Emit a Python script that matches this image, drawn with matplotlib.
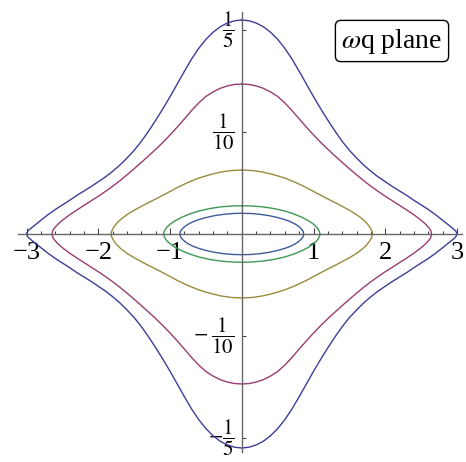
import numpy as np
import matplotlib.pyplot as plt

plt.rcParams['font.family'] = ['Liberation Serif', 'DejaVu Serif']
plt.rcParams['mathtext.fontset'] = 'stix'

# upper right quadrant of each closed curve (omega, q); the rest is mirrored
w1 = [0.0, 0.1, 0.2, 0.3, 0.4, 0.5, 0.6, 0.7, 0.8, 0.9, 1.0, 1.1, 1.2, 1.3, 1.4, 1.5, 1.6, 1.7,
      1.8, 1.9, 2.0, 2.1, 2.2, 2.3, 2.4, 2.5, 2.6, 2.7, 2.8, 2.88, 2.94, 2.975, 2.99, 3.0]
q1 = [0.2098, 0.2090, 0.2068, 0.2032, 0.1978, 0.1908, 0.1820, 0.1715, 0.1595, 0.1470, 0.1346,
      0.1228, 0.1115, 0.1008, 0.0908, 0.0820, 0.0745, 0.0675, 0.0615, 0.0560, 0.0512, 0.0465,
      0.0422, 0.0378, 0.0330, 0.0285, 0.0240, 0.0190, 0.0135, 0.0090, 0.0055, 0.0035, 0.0020, 0.0]

w2 = [0.0, 0.1, 0.2, 0.3, 0.4, 0.5, 0.6, 0.7, 0.8, 0.9, 1.0, 1.1, 1.2, 1.3, 1.4, 1.5, 1.6, 1.7,
      1.8, 1.9, 2.0, 2.1, 2.2, 2.3, 2.4, 2.5, 2.56, 2.6, 2.625, 2.638, 2.645]
q2 = [0.1470, 0.1466, 0.1452, 0.1428, 0.1393, 0.1348, 0.1285, 0.1210, 0.1128, 0.1048, 0.0971,
      0.0898, 0.0830, 0.0765, 0.0702, 0.0640, 0.0580, 0.0522, 0.0468, 0.0418, 0.0370, 0.0325,
      0.0280, 0.0235, 0.0188, 0.0135, 0.0098, 0.0068, 0.0045, 0.0028, 0.0]

w3 = [0.0, 0.15, 0.3, 0.45, 0.6, 0.75, 0.9, 1.05, 1.2, 1.35, 1.5, 1.6, 1.68, 1.74, 1.78, 1.805,
      1.818, 1.823]
q3 = [0.0627, 0.0622, 0.0606, 0.0580, 0.0548, 0.0505, 0.0455, 0.0398, 0.0343, 0.0290, 0.0233,
      0.0190, 0.0148, 0.0108, 0.0072, 0.0042, 0.0020, 0.0]

w4 = [0.0, 0.15, 0.3, 0.45, 0.6, 0.72, 0.84, 0.93, 1.0, 1.045, 1.07, 1.083, 1.09]
q4 = [0.0277, 0.0274, 0.0265, 0.0249, 0.0225, 0.0198, 0.0163, 0.0130, 0.0096, 0.0066, 0.0042,
      0.0022, 0.0]

w5 = [0.0, 0.12, 0.25, 0.38, 0.5, 0.6, 0.68, 0.75, 0.8, 0.83, 0.85, 0.858, 0.862]
q5 = [0.0203, 0.0201, 0.0193, 0.0180, 0.0161, 0.0141, 0.0120, 0.0095, 0.0070, 0.0050, 0.0032,
      0.0018, 0.0]

curves = [(w1, q1), (w2, q2), (w3, q3), (w4, q4), (w5, q5)]
colors = [(0.24, 0.24, 0.6), (0.6, 0.24, 0.442), (0.6, 0.547, 0.24),
          (0.24, 0.6, 0.33), (0.24, 0.353, 0.6)]

xticks = [-3, -2, -1, 1, 2, 3]
xticklabels = ['\u22123', '\u22122', '\u22121', '1', '2', '3']
yticks = [-0.2, -0.1, 0.1, 0.2]
yticklabels = [r'$-\dfrac{1}{5}$', r'$-\;\dfrac{1}{10}$', r'$\dfrac{1}{10}$', r'$\dfrac{1}{5}$']


def closed(w, q):
    w = np.array(w)
    q = np.array(q)
    x = np.concatenate([w, w[::-1], -w, -w[::-1]])
    y = np.concatenate([q, -q[::-1], -q, q[::-1]])
    return x, y


fig = plt.figure(figsize=(4.66, 4.62), dpi=100)
ax = fig.add_axes([18 / 466, 10 / 462, 444 / 466, 440 / 462])

for (w, q), c in zip(curves, colors):
    x, y = closed(w, q)
    ax.plot(x, y, color=c, lw=1.0, solid_joinstyle='round')

ax.set_xlim(-3.12, 3.07)
ax.set_ylim(-0.2137, 0.2176)

for s in ['top', 'right']:
    ax.spines[s].set_visible(False)
ax.spines['left'].set_position('zero')
ax.spines['bottom'].set_position('zero')
for s in ['left', 'bottom']:
    ax.spines[s].set_color('#666666')
    ax.spines[s].set_linewidth(1.0)

ax.set_xticks(xticks)
ax.set_xticklabels(xticklabels)
ax.set_xticks(np.arange(-3, 3.01, 0.2), minor=True)
ax.set_yticks(yticks)
ax.set_yticklabels(yticklabels, va='center')

ax.tick_params(axis='x', which='major', direction='in', length=4, width=0.8,
               color='#444444', labelsize=19, pad=6)
ax.tick_params(axis='x', which='minor', direction='in', length=2.5, width=0.8,
               color='#444444')
ax.tick_params(axis='y', which='major', direction='in', length=3, width=0.8,
               color='#444444', labelsize=15, pad=5)
ax.patch.set_visible(False)

fig.text(392 / 466, 1 - 41 / 462, r'$\omega$q plane', fontsize=20,
         ha='center', va='center',
         bbox=dict(boxstyle='round,pad=0.22,rounding_size=0.2',
                   fc='white', ec='black', lw=1.0))

fig.savefig('out.png', dpi=100)
